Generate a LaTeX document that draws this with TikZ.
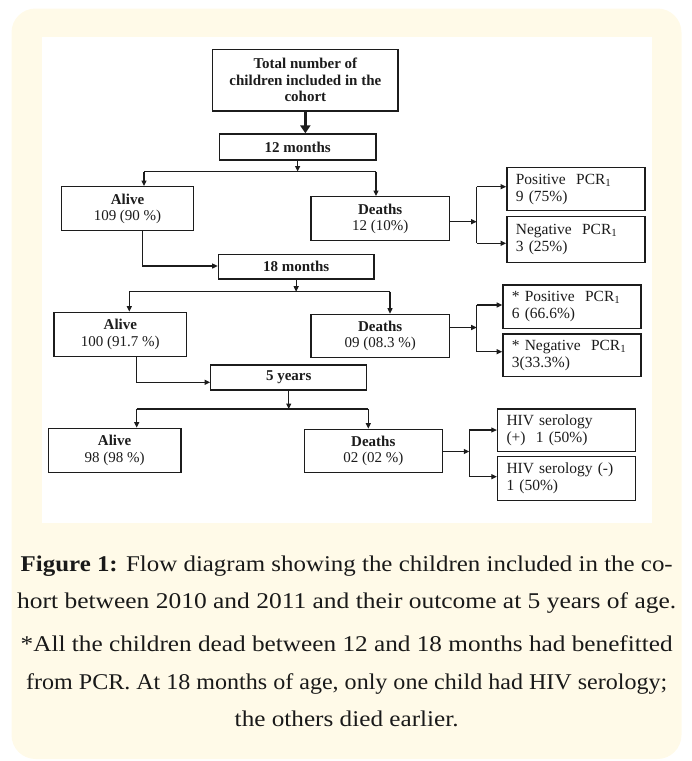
\documentclass[tikz,border=0pt]{standalone}
\usepackage{fontspec}
\setmainfont{Liberation Serif}
\usetikzlibrary{arrows.meta}
\definecolor{cream}{RGB}{255,250,232}
\definecolor{ink}{RGB}{28,28,28}
\begin{document}
\begin{tikzpicture}[x=1pt,y=-1pt,
  box/.style={draw=ink, line width=1.3pt, fill=white, text=ink, font=\fontsize{15}{16.5}\selectfont, inner sep=0pt, align=center},
  boldbox/.style={box, font=\bfseries\fontsize{15}{16.5}\selectfont},
  rbox/.style={draw=ink, line width=1.3pt, fill=white, text=ink, font=\fontsize{15.5}{17}\selectfont, inner xsep=9pt, inner ysep=0pt, text width=120pt, align=left},
  conn/.style={draw=ink, line width=1.1pt},
  arr/.style={conn, -{Triangle[length=5.5pt,width=5pt]}},
  bigarr/.style={draw=ink, line width=3.6pt, -{Triangle[length=8pt,width=10pt]}},
  captext/.style={anchor=base, inner sep=0pt, text={rgb,255:red,25;green,25;blue,25}, font=\fontsize{22.5}{26}\selectfont},
]
\path[use as bounding box] (0,0) rectangle (692,761);
\fill[cream, rounded corners=24pt] (11.5,8.5) rectangle (681.5,759);
\fill[white] (41.7,37) rectangle (651.7,522.5);

% boxes
\node[boldbox, minimum width=185.3pt, minimum height=61.7pt] (total) at (305.35,80.15) {Total number of\\children included in the\\cohort};
\node[boldbox, minimum width=156.7pt, minimum height=26pt] (m12) at (297.65,147) {12 months};
\node[box, minimum width=131.6pt, minimum height=44pt] (alive1) at (127.5,208.7) {\textbf{Alive}\\109 (90 \%)};
\node[box, minimum width=138.3pt, minimum height=44pt] (deaths1) at (380.15,218.7) {\textbf{Deaths}\\12 (10\%)};
\node[rbox, minimum height=43pt] (pos1) at (575.85,189.2) {Positive\ \ PCR\textsubscript{1}\\9 (75\%)};
\node[rbox, minimum height=45.6pt] (neg1) at (575.85,239.5) {Negative\ \ PCR\textsubscript{1}\\3 (25\%)};

\node[boldbox, minimum width=155.7pt, minimum height=24.7pt] (m18) at (296.15,266.65) {18 months};
\node[box, minimum width=132.7pt, minimum height=44.2pt] (alive2) at (120.35,334.4) {\textbf{Alive}\\100 (91.7 \%)};
\node[box, minimum width=138.3pt, minimum height=43pt] (deaths2) at (380.15,335.8) {\textbf{Deaths}\\09 (08.3 \%)};
\node[rbox, minimum height=43.3pt] (pos2) at (571.85,306.65) {* Positive\ \ PCR\textsubscript{1}\\6 (66.6\%)};
\node[rbox, minimum height=42.7pt] (neg2) at (571.85,355.35) {* Negative\ \ PCR\textsubscript{1}\\3(33.3\%)};

\node[boldbox, minimum width=156pt, minimum height=25pt] (y5) at (288.7,377.5) {5 years};
\node[box, minimum width=132.7pt, minimum height=44pt] (alive3) at (114.65,450.3) {\textbf{Alive}\\98 (98 \%)};
\node[box, minimum width=138pt, minimum height=43pt] (deaths3) at (373.3,450.8) {\textbf{Deaths}\\02 (02 \%)};
\node[rbox, minimum height=42.7pt] (hivp) at (566.5,430.35) {HIV serology\\(+)\ \ 1 (50\%)};
\node[rbox, minimum height=44pt] (hivn) at (566.5,478.7) {HIV serology (-)\\1 (50\%)};

% level 1
\draw[bigarr] (total.south) -- (total.south |- m12.north);
\coordinate (s1) at (297.65,171.5);
\coordinate (s1l) at (144,171.5);
\coordinate (s1r) at (376,171.5);
\draw[arr] (m12.south) -- (s1);
\draw[conn] (s1l) -- (s1r);
\draw[arr] (s1l) -- (s1l |- alive1.north);
\draw[arr] (s1r) -- (s1r |- deaths1.north);
\coordinate (b1t) at (476.7,186.7);
\coordinate (b1m) at (476.7,221.7);
\coordinate (b1b) at (476.7,243.3);
\draw[arr] (deaths1.east |- b1m) -- (b1m);
\draw[conn] (b1t) -- (b1b);
\draw[arr] (b1t) -- (b1t -| pos1.west);
\draw[arr] (b1b) -- (b1b -| neg1.west);

% level 2
\coordinate (a1x) at (142.3,266);
\draw[arr] (a1x |- alive1.south) -- (a1x) -- (a1x -| m18.west);
\coordinate (s2) at (296.15,291.7);
\coordinate (s2l) at (129.3,291.7);
\coordinate (s2r) at (390,291.7);
\draw[arr] (m18.south) -- (s2);
\draw[conn] (s2l) -- (s2r);
\draw[arr] (s2l) -- (s2l |- alive2.north);
\draw[arr] (s2r) -- (s2r |- deaths2.north);
\coordinate (b2t) at (476.7,305);
\coordinate (b2m) at (476.7,327.5);
\coordinate (b2b) at (476.7,351.7);
\draw[arr] (deaths2.east |- b2m) -- (b2m);
\draw[conn] (b2t) -- (b2b);
\draw[arr] (b2t) -- (b2t -| pos2.west);
\draw[arr] (b2b) -- (b2b -| neg2.west);

% level 3
\coordinate (a2x) at (136.7,382.3);
\draw[arr] (a2x |- alive2.south) -- (a2x) -- (a2x -| y5.west);
\coordinate (s3) at (288.7,409);
\coordinate (s3l) at (136.7,409);
\coordinate (s3r) at (368.3,409);
\draw[arr] (y5.south) -- (s3);
\draw[conn] (s3l) -- (s3r);
\draw[arr] (s3l) -- (s3l |- alive3.north);
\draw[arr] (s3r) -- (s3r |- deaths3.north);
\coordinate (b3t) at (469.3,430);
\coordinate (b3m) at (469.3,451.5);
\coordinate (b3b) at (469.3,476.7);
\draw[arr] (deaths3.east |- b3m) -- (b3m);
\draw[conn] (b3t) -- (b3b);
\draw[arr] (b3t) -- (b3t -| hivp.west);
\draw[arr] (b3b) -- (b3b -| hivn.west);

% caption
\node[captext] (c1) at (346.7,571.7) {\resizebox{652pt}{\height}{\textbf{Figure 1:} Flow diagram showing the children included in the co-}};
\node[captext] (c2) at (346.7,608.3) {\resizebox{659pt}{\height}{hort between 2010 and 2011 and their outcome at 5 years of age.}};
\node[captext] (c3) at (346.7,651.7) {\resizebox{652pt}{\height}{*All the children dead between 12 and 18 months had benefitted}};
\node[captext] (c4) at (346.7,689.3) {\resizebox{641pt}{\height}{from PCR. At 18 months of age, only one child had HIV serology;}};
\node[captext] (c5) at (346.7,726.5) {\scalebox{1.12}[1]{the others died earlier.}};
\end{tikzpicture}
\end{document}
